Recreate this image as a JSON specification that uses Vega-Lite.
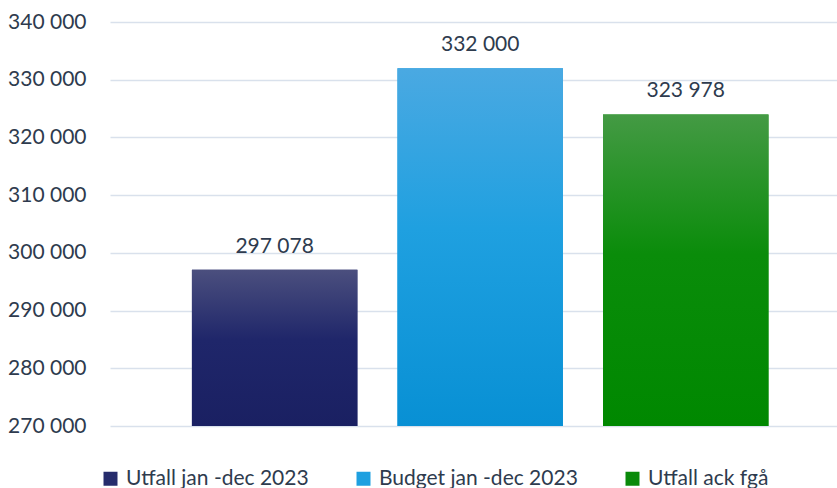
{
  "$schema": "https://vega.github.io/schema/vega-lite/v6.json",
  "width": 727,
  "height": 404,
  "autosize": {"type": "none"},
  "padding": {"left": 110, "top": 22, "right": 0, "bottom": 62},
  "background": "#ffffff",
  "config": {
    "view": {"stroke": null},
    "font": "Lato",
    "locale": {"number": {"decimal": ",", "thousands": " ", "grouping": [3], "currency": ["", " kr"]}}
  },
  "data": {
    "values": [
      {"serie": "Utfall jan -dec 2023", "value": 297078},
      {"serie": "Budget jan -dec 2023", "value": 332000},
      {"serie": "Utfall ack fgå", "value": 323978}
    ]
  },
  "encoding": {
    "x": {
      "field": "serie", "type": "nominal",
      "sort": ["Utfall jan -dec 2023", "Budget jan -dec 2023", "Utfall ack fgå"],
      "scale": {"paddingInner": 0.195, "paddingOuter": 0.366, "align": 0.5445},
      "axis": null
    },
    "y": {
      "field": "value", "type": "quantitative",
      "scale": {"domain": [270000, 340000], "zero": false, "nice": false},
      "axis": {
        "title": null,
        "values": [270000, 280000, 290000, 300000, 310000, 320000, 330000, 340000],
        "format": ",d",
        "domain": false,
        "ticks": false,
        "grid": true,
        "gridColor": "#d9e1ec",
        "gridWidth": 1.5,
        "labelFont": "Lato",
        "labelFontSize": 21,
        "labelColor": "#2e3b4e",
        "labelPadding": 24
      }
    }
  },
  "layer": [
    {
      "mark": {"type": "bar"},
      "encoding": {
        "y2": {"datum": 270000},
        "color": {
          "field": "serie", "type": "nominal",
          "sort": ["Utfall jan -dec 2023", "Budget jan -dec 2023", "Utfall ack fgå"],
          "scale": {
            "domain": ["Utfall jan -dec 2023", "Budget jan -dec 2023", "Utfall ack fgå"],
            "range": ["#262c6c", "#1ea0e0", "#0a8a0a"]
          },
          "legend": {
            "title": null,
            "orient": "none",
            "direction": "horizontal",
            "columns": 3,
            "legendX": -10,
            "legendY": 446,
            "symbolType": "square",
            "symbolSize": 196,
            "symbolStrokeWidth": 0,
            "labelFont": "Lato",
            "labelFontSize": 21,
            "labelColor": "#2e3b4e",
            "labelOffset": 5,
            "labelLimit": 400,
            "columnPadding": 44
          }
        }
      }
    },
    {
      "transform": [{"filter": "datum.serie === 'Utfall jan -dec 2023'"}],
      "mark": {
        "type": "bar",
        "color": {
          "gradient": "linear", "x1": 0, "y1": 0, "x2": 0, "y2": 1,
          "stops": [
            {"offset": 0, "color": "#4b4f7e"},
            {"offset": 0.45, "color": "#1f266a"},
            {"offset": 1, "color": "#1a2062"}
          ]
        }
      },
      "encoding": {"y2": {"datum": 270000}}
    },
    {
      "transform": [{"filter": "datum.serie === 'Budget jan -dec 2023'"}],
      "mark": {
        "type": "bar",
        "color": {
          "gradient": "linear", "x1": 0, "y1": 0, "x2": 0, "y2": 1,
          "stops": [
            {"offset": 0, "color": "#4aa9e2"},
            {"offset": 0.45, "color": "#1fa0e0"},
            {"offset": 1, "color": "#0890d4"}
          ]
        }
      },
      "encoding": {"y2": {"datum": 270000}}
    },
    {
      "transform": [{"filter": "datum.serie === 'Utfall ack fgå'"}],
      "mark": {
        "type": "bar",
        "color": {
          "gradient": "linear", "x1": 0, "y1": 0, "x2": 0, "y2": 1,
          "stops": [
            {"offset": 0, "color": "#449a44"},
            {"offset": 0.45, "color": "#0a8c0a"},
            {"offset": 1, "color": "#008800"}
          ]
        }
      },
      "encoding": {"y2": {"datum": 270000}}
    },
    {
      "mark": {"type": "text", "baseline": "alphabetic", "dy": -17, "font": "Lato", "fontSize": 21, "color": "#2e3b4e"},
      "encoding": {
        "text": {"field": "value", "type": "quantitative", "format": ",d"}
      }
    }
  ]
}
